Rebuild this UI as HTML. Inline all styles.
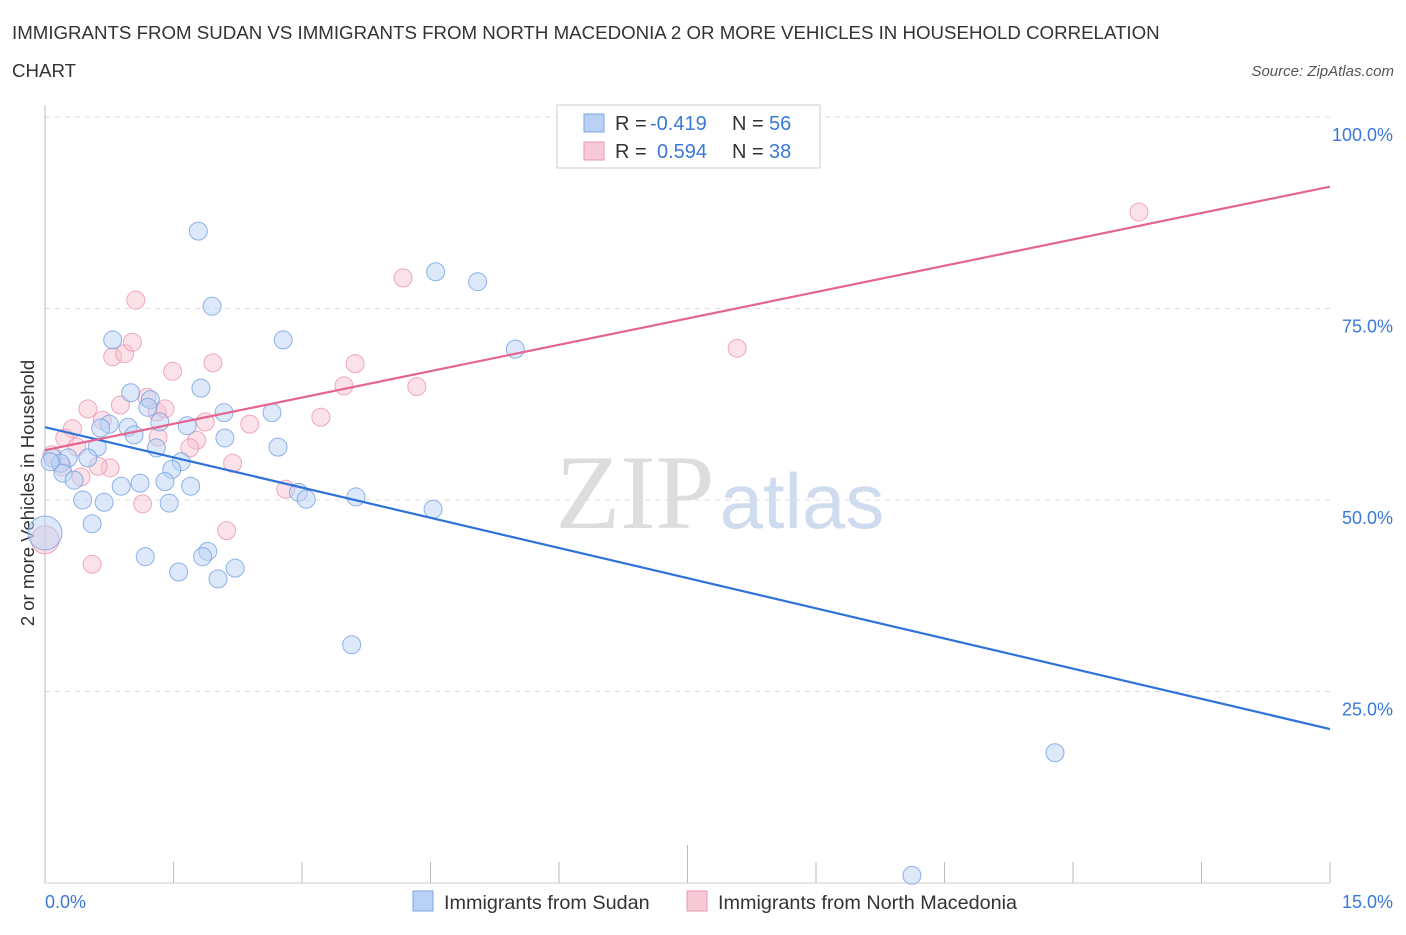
<!DOCTYPE html>
<html><head><meta charset="utf-8"><style>
body{margin:0;background:#fff;font-family:"Liberation Sans",sans-serif}
</style></head><body>
<svg width="1406" height="930" xmlns="http://www.w3.org/2000/svg">
<text x="12" y="39" font-size="18.7" fill="#333">IMMIGRANTS FROM SUDAN VS IMMIGRANTS FROM NORTH MACEDONIA 2 OR MORE VEHICLES IN HOUSEHOLD CORRELATION</text>
<text x="12" y="77" font-size="18.7" fill="#333">CHART</text>
<text x="1394" y="76" font-size="15" fill="#555" font-style="italic" text-anchor="end">Source: ZipAtlas.com</text>
<text x="635" y="528" font-size="106" fill="#ddd" font-family="Liberation Serif,serif" text-anchor="middle">ZIP</text>
<text x="802" y="528" font-size="78" fill="#cfdcf0" text-anchor="middle">atlas</text>
<g id="grid"></g><g id="ticks"></g>
<line x1="45" y1="105" x2="45" y2="883" stroke="#bbb"/>
<line x1="45" y1="883" x2="1330" y2="883" stroke="#ccc"/>
<text x="34" y="493" font-size="18.5" fill="#333" text-anchor="middle" transform="rotate(-90 34 493)">2 or more Vehicles in Household</text>
<text x="45" y="908" font-size="18" fill="#3b78d8">0.0%</text>
<text x="1393" y="908" font-size="18" fill="#3b78d8" text-anchor="end">15.0%</text>
<g id="pts"></g><g id="lines"></g>
<g>
<rect x="557" y="105" width="263" height="63" fill="#fff" stroke="#ccc"/>
<rect x="584" y="114" width="20" height="18" fill="#b9d1f5" stroke="#7aa4e0"/>
<rect x="584" y="142" width="20" height="18" fill="#f8c9d6" stroke="#ea99b0"/>
<text x="615" y="130" font-size="20" fill="#333">R = <tspan x="650" fill="#3b78d8">-0.419</tspan><tspan x="732">N = </tspan><tspan x="769" fill="#3b78d8">56</tspan></text>
<text x="615" y="158" font-size="20" fill="#333">R = <tspan x="657" fill="#3b78d8">0.594</tspan><tspan x="732">N = </tspan><tspan x="769" fill="#3b78d8">38</tspan></text>
</g>
<g>
<rect x="413" y="891" width="20" height="20" fill="#b9d1f5" stroke="#7aa4e0"/>
<text x="444" y="909" font-size="19.8" fill="#333">Immigrants from Sudan</text>
<rect x="687" y="891" width="20" height="20" fill="#f8c9d6" stroke="#ea99b0"/>
<text x="718" y="909" font-size="19.8" fill="#333">Immigrants from North Macedonia</text>
</g>
</svg>
<script>
const yTicks=[25,50,75,100];
const blueX=[1.79,4.56,5.05,1.95,2.78,0.79,5.49,1.00,1.82,1.23,1.20,2.09,2.65,0.75,1.66,0.97,0.65,2.10,1.34,1.04,0.61,1.30,2.72,0.09,0.27,0.50,0.18,1.59,1.48,0.21,0.34,1.40,1.70,1.11,0.89,0.44,0.69,1.45,2.96,3.05,3.63,4.53,0.55,1.17,1.90,1.84,2.22,1.56,2.02,3.58,11.79,10.12,0.06,0.0];
const blueY=[85.1,79.8,78.5,75.3,70.9,70.9,69.7,64.0,64.6,63.1,62.1,61.4,61.4,59.9,59.7,59.5,59.4,58.1,60.2,58.5,56.9,56.8,56.9,55.5,55.5,55.5,54.8,55.0,54.0,53.5,52.6,52.4,51.8,52.2,51.8,50.0,49.7,49.6,51.0,50.1,50.4,48.8,46.9,42.6,43.3,42.6,41.1,40.6,39.7,31.1,17.0,1.0,55.0,45.7];
const pinkX=[12.77,4.18,1.06,0.79,0.93,1.02,1.49,1.96,3.62,3.49,4.34,8.08,0.50,0.67,0.88,1.19,1.31,1.40,1.87,3.22,2.39,0.32,0.23,1.32,1.77,1.69,0.37,0.08,0.20,0.76,0.62,0.42,2.19,2.81,1.14,2.12,0.55,0.0];
const pinkY=[87.6,79.0,76.1,68.7,69.1,70.6,66.8,67.9,67.8,64.9,64.8,69.8,61.9,60.4,62.4,63.4,61.5,61.9,60.2,60.8,59.9,59.3,58.1,58.2,57.8,56.8,56.9,55.9,54.3,54.2,54.4,53.0,54.8,51.4,49.5,46.0,41.6,44.8];
const blueLine=[59.5,20.1];
const pinkLine=[56.5,90.9];
const xs=v=>45+v/15*1285, ys=v=>883-v/100*766;
const NS="http://www.w3.org/2000/svg";
function mk(t,a,p){const e=document.createElementNS(NS,t);for(const k in a)e.setAttribute(k,a[k]);document.getElementById(p).appendChild(e);return e;}
yTicks.forEach(t=>{
 const l=mk('line',{x1:45,x2:1330,y1:ys(t),y2:ys(t),stroke:'#ddd','stroke-dasharray':'5,5'},'grid');
 
 
 const tx=mk('text',{x:1393,y:ys(t)+24,'font-size':18,fill:'#3b78d8','text-anchor':'end'},'grid');
 tx.textContent=t.toFixed(1)+'%';
 
 
});
for(let i=0;i<=10;i++){
 const x=45+i*128.5;
 const l=mk('line',{x1:x,x2:x,y1:i==5?845:862,y2:883,stroke:'#bbb'},'ticks');
 
 
}
function pts(X,Y,fill,stroke,name,bigR){
 X.forEach((x,i)=>{
  const r=(i==X.length-1)?bigR:9;
  const c=mk('circle',{cx:xs(x),cy:ys(Y[i]),r:r,fill:fill,'fill-opacity':0.5,stroke:stroke,'stroke-opacity':0.75,'stroke-width':1},'pts');
  
  
 });
}
pts(pinkX,pinkY,'#f8c3d2','#ea8fab','point-north-macedonia',14);
pts(blueX,blueY,'#bcd3f5','#6a9be0','point-sudan',17);
const bl=mk('line',{x1:xs(0),y1:ys(blueLine[0]),x2:xs(15),y2:ys(blueLine[1]),stroke:'#2f72d8','stroke-width':2.2},'lines');


const pl=mk('line',{x1:xs(0),y1:ys(pinkLine[0]),x2:xs(15),y2:ys(pinkLine[1]),stroke:'#e46590','stroke-width':2.2},'lines');


</script>
</body></html>
